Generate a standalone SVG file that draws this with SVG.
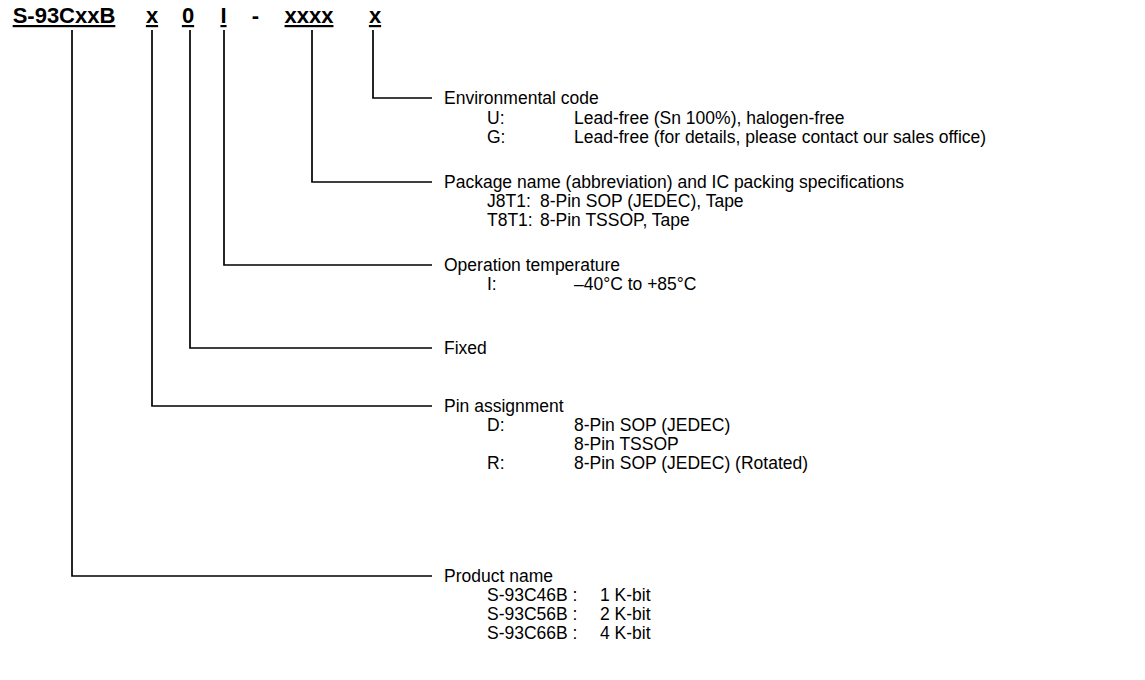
<svg xmlns="http://www.w3.org/2000/svg" width="1145" height="680" viewBox="0 0 1145 680">
<style>
.t{font-family:"Liberation Sans",Arial,sans-serif;font-size:17.5px;fill:#000}
.h{font-family:"Liberation Sans",Arial,sans-serif;font-size:22px;font-weight:bold;fill:#000;text-anchor:middle;text-decoration:underline}
.c{fill:none;stroke:#000;stroke-width:1.7}
</style>
<rect width="1145" height="680" fill="#fff"/>
<g id="title">
<text class="h" x="64" y="23">S-93CxxB</text>
<text class="h" x="152" y="23">x</text>
<text class="h" x="188" y="23">0</text>
<text class="h" x="223.5" y="23">I</text>
<text class="h" x="255.5" y="23" style="text-decoration:none">-</text>
<text class="h" x="309" y="23">xxxx</text>
<text class="h" x="375" y="23">x</text>
</g>
<g id="connectors">
<polyline class="c" points="373,30 373,98 432,98"/>
<polyline class="c" points="312,30 312,182 432,182"/>
<polyline class="c" points="224,30 224,265 432,265"/>
<polyline class="c" points="190,30 190,348 432,348"/>
<polyline class="c" points="152,30 152,406 432,406"/>
<polyline class="c" points="72,30 72,576 432,576"/>
</g>
<g id="env">
<text class="t" x="444" y="104">Environmental code</text>
<text class="t" x="487" y="124">U:</text><text class="t" x="574" y="124">Lead-free (Sn 100%), halogen-free</text>
<text class="t" x="487" y="143">G:</text><text class="t" x="574" y="143">Lead-free (for details, please contact our sales office)</text>
</g>
<g id="package">
<text class="t" x="444" y="188">Package name (abbreviation) and IC packing specifications</text>
<text class="t" x="487" y="207">J8T1:</text><text class="t" x="540" y="207">8-Pin SOP (JEDEC), Tape</text>
<text class="t" x="487" y="226">T8T1:</text><text class="t" x="540" y="226">8-Pin TSSOP, Tape</text>
</g>
<g id="optemp">
<text class="t" x="444" y="271">Operation temperature</text>
<text class="t" x="487" y="290">I:</text><text class="t" x="574" y="290">–40°C to +85°C</text>
</g>
<g id="fixed">
<text class="t" x="444" y="354">Fixed</text>
</g>
<g id="pin">
<text class="t" x="444" y="412">Pin assignment</text>
<text class="t" x="487" y="431">D:</text><text class="t" x="574" y="431">8-Pin SOP (JEDEC)</text>
<text class="t" x="574" y="450">8-Pin TSSOP</text>
<text class="t" x="487" y="469">R:</text><text class="t" x="574" y="469">8-Pin SOP (JEDEC) (Rotated)</text>
</g>
<g id="product">
<text class="t" x="444" y="582">Product name</text>
<text class="t" x="487" y="601">S-93C46B :</text><text class="t" x="600" y="601">1 K-bit</text>
<text class="t" x="487" y="620">S-93C56B :</text><text class="t" x="600" y="620">2 K-bit</text>
<text class="t" x="487" y="639">S-93C66B :</text><text class="t" x="600" y="639">4 K-bit</text>
</g>
</svg>
